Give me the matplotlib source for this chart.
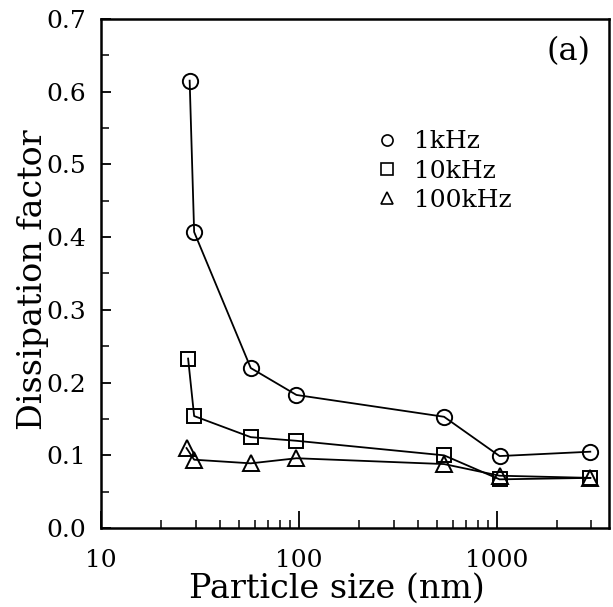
import matplotlib
matplotlib.use("Agg")
import matplotlib.pyplot as plt
from matplotlib.lines import Line2D
from matplotlib.ticker import FixedLocator, NullFormatter, FixedFormatter

plt.rcParams['font.family'] = 'DejaVu Serif'

# particle size (nm)
x_1k = [28, 29.5, 57, 97, 540, 1030, 2960]
x_10k = [27.5, 29.5, 57, 97, 540, 1030, 2960]
x_100k = [27, 29.5, 57, 97, 540, 1030, 2960]
# dissipation factor
y_1k = [0.615, 0.407, 0.220, 0.183, 0.153, 0.099, 0.105]
y_10k = [0.233, 0.154, 0.125, 0.120, 0.100, 0.067, 0.069]
y_100k = [0.110, 0.094, 0.089, 0.096, 0.088, 0.072, 0.069]

labels = ['1kHz', '10kHz', '100kHz']
xticks = [10, 100, 1000]
xticklabels = ['10', '100', '1000']

fig = plt.figure(figsize=(6.13, 6.07), dpi=100)
ax = fig.add_axes([0.165, 0.130, 0.8285, 0.839])

ax.plot(x_1k, y_1k, '-', color='k', lw=1.3, marker='o', ms=11, mfc='none', mec='k', mew=1.4)
ax.plot(x_10k, y_10k, '-', color='k', lw=1.3, marker='s', ms=10, mfc='none', mec='k', mew=1.4)
ax.plot(x_100k, y_100k, '-', color='k', lw=1.3, marker='^', ms=11, mfc='none', mec='k', mew=1.4)

ax.set_xscale('log')
ax.set_xlim(10, 3680)
ax.set_ylim(0, 0.7)

ax.xaxis.set_major_locator(FixedLocator(xticks))
ax.xaxis.set_major_formatter(FixedFormatter(xticklabels))
minor = [m * d for d in (10, 100, 1000) for m in range(2, 10) if m * d < 3680]
ax.xaxis.set_minor_locator(FixedLocator(minor))
ax.xaxis.set_minor_formatter(NullFormatter())
ax.set_yticks([0.0, 0.1, 0.2, 0.3, 0.4, 0.5, 0.6, 0.7])
ax.set_yticklabels(['0.0', '0.1', '0.2', '0.3', '0.4', '0.5', '0.6', '0.7'])
ax.yaxis.set_minor_locator(FixedLocator([0.05, 0.15, 0.25, 0.35, 0.45, 0.55, 0.65]))

ax.tick_params(which='both', direction='in', top=False, right=False, labelsize=18)
ax.tick_params(axis='x', which='major', length=12, width=1.3, pad=15)
ax.tick_params(axis='x', which='minor', length=6, width=1.1)
ax.tick_params(axis='y', which='major', length=7, width=1.3, pad=11)
ax.tick_params(axis='y', which='minor', length=6, width=1.1)
for s in ax.spines.values():
    s.set_linewidth(1.8)

ax.set_xlabel('Particle size (nm)', fontsize=24)
ax.xaxis.set_label_coords(0.465, -0.088)
ax.set_ylabel('Dissipation factor', fontsize=24)
ax.yaxis.set_label_coords(-0.102, 0.487)

handles = [Line2D([], [], ls='none', marker=m, ms=8, mfc='none', mec='k', mew=1.2)
           for m in ('o', 's', '^')]
ax.legend(handles, labels, loc='upper left', bbox_to_anchor=(0.538, 0.781), frameon=False,
          borderaxespad=0, borderpad=0, fontsize=18, handletextpad=0.6,
          labelspacing=0.25, handlelength=1.0)
ax.text(0.963, 0.967, '(a)', transform=ax.transAxes, ha='right', va='top', fontsize=23)

fig.savefig('out.png', dpi=100)
